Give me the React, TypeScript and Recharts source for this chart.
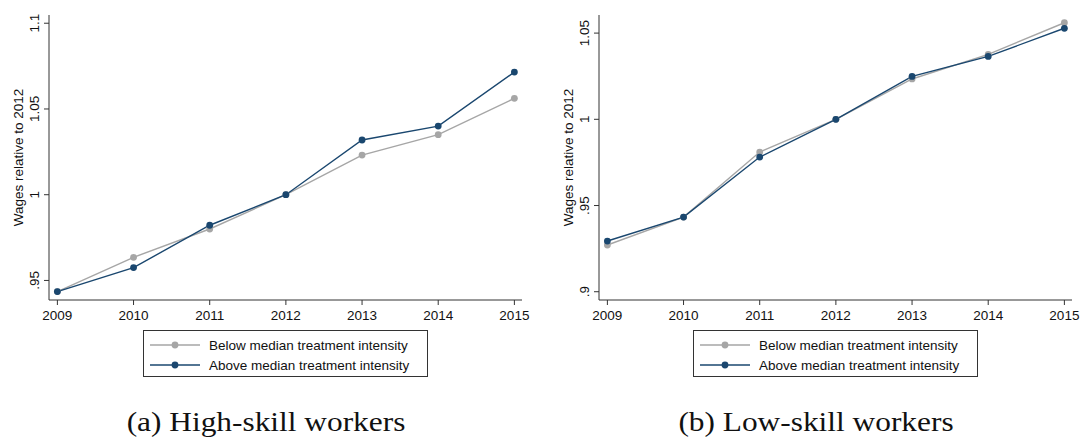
import { Legend, Line, LineChart, XAxis, YAxis } from "recharts";

const years = [2009, 2010, 2011, 2012, 2013, 2014, 2015];

const highBelow = [0.9435, 0.9635, 0.98, 1.0, 1.0231, 1.035, 1.0562];
const highAbove = [0.9435, 0.9575, 0.9822, 1.0, 1.0319, 1.04, 1.0715];
const lowBelow = [0.9271, 0.9433, 0.981, 1.0, 1.0234, 1.0377, 1.056];
const lowAbove = [0.9294, 0.9433, 0.9781, 1.0, 1.0249, 1.0365, 1.0528];

const highTicks = [0.95, 1, 1.05, 1.1];
const lowTicks = [0.9, 0.95, 1, 1.05];

const seriesNames = ["Below median treatment intensity", "Above median treatment intensity"];
const captions = ["(a) High-skill workers", "(b) Low-skill workers"];
const yLabel = "Wages relative to 2012";

const GRAY = "#a6a6a6";
const NAVY = "#1a476f";
const AXIS = "#333333";
const FONT = "'Liberation Sans', Arial, sans-serif";

const fmt = (v: number) => (v < 1 ? String(v).replace(/^0/, "") : String(v));

function YTick({ x, y, payload }: any) {
  return (
    <text
      x={x}
      y={y}
      transform={`rotate(-90, ${x}, ${y})`}
      textAnchor="middle"
      fontSize={13.5}
      fontFamily={FONT}
      fill="#111"
    >
      {fmt(payload.value)}
    </text>
  );
}

function YLabel({ viewBox }: any) {
  const x = viewBox.x + 18.3;
  const y = viewBox.y + viewBox.height / 2;
  return (
    <text
      x={x}
      y={y}
      transform={`rotate(-90, ${x}, ${y})`}
      textAnchor="middle"
      dominantBaseline="central"
      fontSize={13.5}
      fontFamily={FONT}
      fill="#111"
    >
      {yLabel}
    </text>
  );
}

function LegendBox() {
  const colors = [GRAY, NAVY];
  return (
    <div
      style={{
        border: `1px solid ${AXIS}`,
        boxSizing: "border-box",
        width: 285,
        height: 47,
        padding: "4px 0 0 6px",
        background: "#fff",
      }}
    >
      {seriesNames.map((name, i) => (
        <div key={name} style={{ display: "flex", alignItems: "center", height: 20 }}>
          <svg width={50} height={10} style={{ display: "block" }}>
            <line x1={0} y1={5} x2={50} y2={5} stroke={colors[i]} strokeWidth={1.4} />
            <circle cx={25} cy={5} r={3.4} fill={colors[i]} />
          </svg>
          <span
            style={{
              marginLeft: 9,
              fontFamily: FONT,
              fontSize: 13.5,
              color: "#111",
              whiteSpace: "nowrap",
            }}
          >
            {name}
          </span>
        </div>
      ))}
    </div>
  );
}

function Panel({
  below,
  above,
  domain,
  ticks,
  width,
}: {
  below: number[];
  above: number[];
  domain: [number, number];
  ticks: number[];
  width: number;
}) {
  const data = years.map((year, i) => ({ year, below: below[i], above: above[i] }));
  return (
    <LineChart
      width={width}
      height={390}
      data={data}
      margin={{ top: 15, right: width - 522, left: 0, bottom: 60 }}
    >
      <XAxis
        dataKey="year"
        type="number"
        domain={[2008.89, 2015.1]}
        ticks={years}
        allowDataOverflow
        height={30}
        tickSize={5}
        tickMargin={5}
        stroke={AXIS}
        tick={{ fill: "#111", fontSize: 13.5, fontFamily: FONT }}
      />
      <YAxis
        type="number"
        domain={domain}
        ticks={ticks}
        allowDataOverflow
        width={49}
        tickSize={5}
        tickMargin={5}
        stroke={AXIS}
        tick={<YTick />}
        label={{ content: <YLabel /> }}
      />
      <Legend
        layout="vertical"
        align="center"
        verticalAlign="middle"
        content={<LegendBox />}
        wrapperStyle={{ top: 330, left: 143, width: 285 }}
      />
      <Line
        dataKey="below"
        name={seriesNames[0]}
        stroke={GRAY}
        strokeWidth={1.4}
        dot={{ r: 3.4, fill: GRAY, stroke: GRAY, strokeWidth: 0 }}
        activeDot={false}
        isAnimationActive={false}
      />
      <Line
        dataKey="above"
        name={seriesNames[1]}
        stroke={NAVY}
        strokeWidth={1.4}
        dot={{ r: 3.4, fill: NAVY, stroke: NAVY, strokeWidth: 0 }}
        activeDot={false}
        isAnimationActive={false}
      />
    </LineChart>
  );
}

export default function App() {
  const captionStyle = {
    position: "absolute" as const,
    top: 404,
    width: 400,
    textAlign: "center" as const,
    fontFamily: "'Liberation Serif', 'Times New Roman', serif",
    fontSize: 28,
    transform: "scaleX(1.12)",
    transformOrigin: "center",
    color: "#111",
    whiteSpace: "nowrap" as const,
    lineHeight: "36px",
  };
  return (
    <div
      style={{
        position: "absolute",
        top: 0,
        left: 0,
        width: 1080,
        height: 439,
        background: "#fff",
        overflow: "hidden",
      }}
    >
      <div style={{ position: "absolute", left: 0, top: 0 }}>
        <Panel below={highBelow} above={highAbove} domain={[0.9386, 1.1048]} ticks={highTicks} width={540} />
      </div>
      <div style={{ position: "absolute", left: 550, top: 0 }}>
        <Panel below={lowBelow} above={lowAbove} domain={[0.8952, 1.0605]} ticks={lowTicks} width={530} />
      </div>
      <div style={{ ...captionStyle, left: 266 - 200 }}>{captions[0]}</div>
      <div style={{ ...captionStyle, left: 815.5 - 200 }}>{captions[1]}</div>
    </div>
  );
}
